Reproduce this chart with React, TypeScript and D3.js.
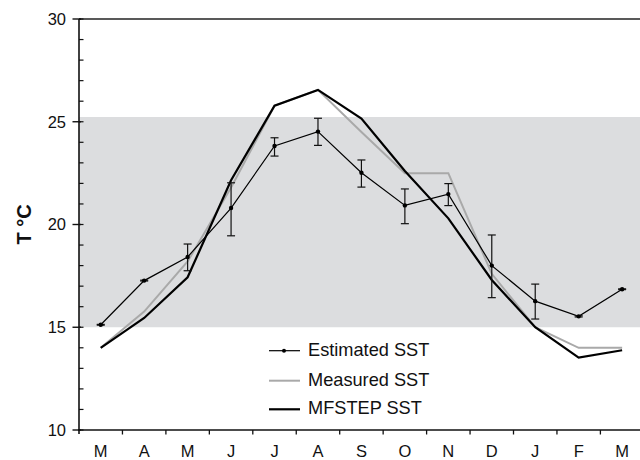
import React from "react";
import * as d3 from "d3";

const months = ["M", "A", "M", "J", "J", "A", "S", "O", "N", "D", "J", "F", "M"];
const estimated = [15.12, 17.27, 18.42, 20.8, 23.82, 24.52, 22.52, 20.93, 21.48, 18.0, 16.27, 15.53, 16.85];
const estLow = [15.1, 17.25, 17.75, 19.45, 23.33, 23.85, 21.82, 20.04, 20.92, 16.44, 15.4, 15.5, 16.83];
const estHigh = [15.14, 17.29, 19.05, 22.03, 24.22, 25.17, 23.14, 21.73, 21.99, 19.49, 17.1, 15.56, 16.87];
const measured = [14.0, 15.76, 18.2, 21.8, 25.78, 26.55, 24.5, 22.5, 22.5, 17.6, 15.0, 14.0, 14.0];
const mfstep = [14.0, 15.45, 17.43, 22.15, 25.78, 26.55, 25.15, 22.6, 20.3, 17.3, 15.0, 13.52, 13.88];
const yTicks = [10, 15, 20, 25, 30];
const yMinor = d3.range(10, 31, 1);
const bandRange = [15.0, 25.23];
const legendItems = ["Estimated SST", "Measured SST", "MFSTEP SST"];

export default function App() {
  const W = 640, H = 460;
  const left = 79, top = 19, bottom = 430;
  const bw = 43.45;
  const x = d3.scaleBand<number>().domain(d3.range(months.length)).range([left, left + bw * months.length]).padding(0);
  const cx = (i: number) => (x(i) as number) + x.bandwidth() / 2;
  const y = d3.scaleLinear().domain([10, 30]).range([bottom, top]);
  const line = d3.line<number>().x((_, i) => cx(i)).y((d) => y(d));
  const font = "'Liberation Sans', Arial, sans-serif";
  const legX = 269, legY = [350.7, 380.7, 409.3];

  return (
    <svg width={W} height={H} style={{ position: "absolute", left: 0, top: 0, background: "#fff" }}>
      <rect x={left} y={y(bandRange[1])} width={W - left} height={y(bandRange[0]) - y(bandRange[1])} fill="#dcdddf" />
      {/* axes */}
      <line x1={left} x2={W} y1={top} y2={top} stroke="#222" strokeWidth={1.6} />
      <line x1={left} x2={left} y1={top} y2={bottom + 4} stroke="#111" strokeWidth={1.6} />
      <line x1={left - 1} x2={W} y1={bottom} y2={bottom} stroke="#111" strokeWidth={1.6} />
      {yMinor.map((v) => (
        <line key={"mi" + v} x1={left} x2={left + 4.5} y1={y(v)} y2={y(v)} stroke="#111" strokeWidth={1.2} />
      ))}
      {yTicks.map((v) => (
        <g key={"yt" + v}>
          <line x1={left - 6.5} x2={left + 2} y1={y(v)} y2={y(v)} stroke="#111" strokeWidth={1.4} />
          <text x={left - 13} y={y(v)} dy="0.36em" textAnchor="end" fontFamily={font} fontSize={16.5} fill="#111">
            {v}
          </text>
        </g>
      ))}
      {months.map((m, i) => (
        <g key={"xt" + i}>
          {i > 0 && <line x1={x(i) as number} x2={x(i) as number} y1={bottom} y2={bottom + 4.5} stroke="#111" strokeWidth={1.3} />}
          <text x={cx(i)} y={456.5} textAnchor="middle" fontFamily={font} fontSize={16.5} fill="#111">
            {m}
          </text>
        </g>
      ))}
      <text transform={`translate(30.5,${(top + bottom) / 2}) rotate(-90)`} textAnchor="middle" fontFamily={font} fontSize={20} fontWeight="bold" fill="#111">
        T °C
      </text>
      {/* series */}
      <path d={line(measured) || ""} fill="none" stroke="#a9a9a9" strokeWidth={2} strokeLinejoin="miter" />
      <path d={line(mfstep) || ""} fill="none" stroke="#000" strokeWidth={2.2} strokeLinejoin="miter" />
      <path d={line(estimated) || ""} fill="none" stroke="#000" strokeWidth={1.2} />
      {estimated.map((v, i) => (
        <g key={"e" + i}>
          <line x1={cx(i)} x2={cx(i)} y1={y(estLow[i])} y2={y(estHigh[i])} stroke="#111" strokeWidth={1.2} />
          <line x1={cx(i) - 4} x2={cx(i) + 4} y1={y(estLow[i])} y2={y(estLow[i])} stroke="#111" strokeWidth={1.2} />
          <line x1={cx(i) - 4} x2={cx(i) + 4} y1={y(estHigh[i])} y2={y(estHigh[i])} stroke="#111" strokeWidth={1.2} />
          <circle cx={cx(i)} cy={y(v)} r={2.2} fill="#000" />
        </g>
      ))}
      {/* legend */}
      <line x1={legX} x2={legX + 31} y1={legY[0]} y2={legY[0]} stroke="#000" strokeWidth={1.2} />
      <circle cx={legX + 15} cy={legY[0]} r={2} fill="#000" />
      <line x1={legX} x2={legX + 31} y1={legY[1]} y2={legY[1]} stroke="#a9a9a9" strokeWidth={2} />
      <line x1={legX} x2={legX + 31} y1={legY[2]} y2={legY[2]} stroke="#000" strokeWidth={2.2} />
      {legendItems.map((t, i) => (
        <text key={t} x={legX + 39} y={legY[i] - 1.5} dy="0.36em" fontFamily={font} fontSize={18.2} fill="#111">
          {t}
        </text>
      ))}
    </svg>
  );
}
